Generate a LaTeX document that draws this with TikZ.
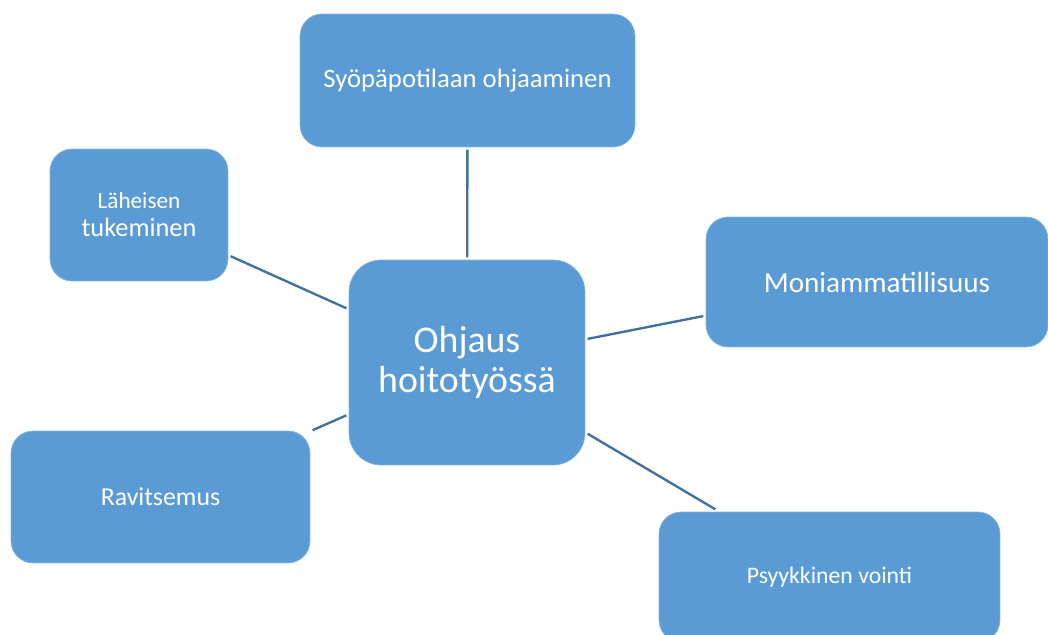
\documentclass[tikz,border=0pt]{standalone}
\usepackage{fontspec}
\setmainfont{Carlito}
\definecolor{boxblue}{HTML}{5B9BD5}
\definecolor{linkblue}{HTML}{41719C}

\begin{document}
\begin{tikzpicture}[x=0.02cm,y=-0.02cm,
		topic/.style={rectangle,rounded corners=0.44cm,fill=boxblue,draw=boxblue!75!white,line width=0.4pt,text=white,align=center,inner sep=0pt,outer sep=1.5pt},
		link/.style={draw=linkblue,line width=1.35pt}]
				\useasboundingbox (0,0) rectangle (1048,635);
				\node[topic,minimum width=6.7cm,minimum height=2.66cm,font=\fontsize{15.2}{18}\selectfont] (syopa) at (467.5,80.5) {Syöpäpotilaan ohjaaminen};
				\node[topic,minimum width=3.56cm,minimum height=2.64cm,font=\fontsize{15}{15.9}\selectfont] (laheinen) at (139,215) {{\fontsize{13.2}{15.9}\selectfont Läheisen}\\tukeminen};
				\node[topic,minimum width=4.72cm,minimum height=4.1cm,rounded corners=0.64cm,font=\fontsize{21.5}{23.2}\selectfont] (ohjaus) at (467,362.5) {Ohjaus\\hoitotyössä};
				\node[topic,minimum width=6.84cm,minimum height=2.6cm,font=\fontsize{16.6}{19}\selectfont] (moni) at (877,282) {Moniammatillisuus};
				\node[topic,minimum width=5.98cm,minimum height=2.64cm,font=\fontsize{14.7}{18}\selectfont] (ravinto) at (160.5,497) {Ravitsemus};
				\node[topic,minimum width=6.82cm,minimum height=2.6cm,font=\fontsize{13.5}{16}\selectfont] (psyyke) at (829.5,577) {Psyykkinen vointi};
				\draw[link] (syopa) -- (ohjaus);
				\draw[link] (laheinen) -- (ohjaus);
				\draw[link] (moni) -- (ohjaus);
				\draw[link] (ravinto) -- (ohjaus);
				\draw[link] (psyyke) -- (ohjaus);
			\end{tikzpicture}
\end{document}
